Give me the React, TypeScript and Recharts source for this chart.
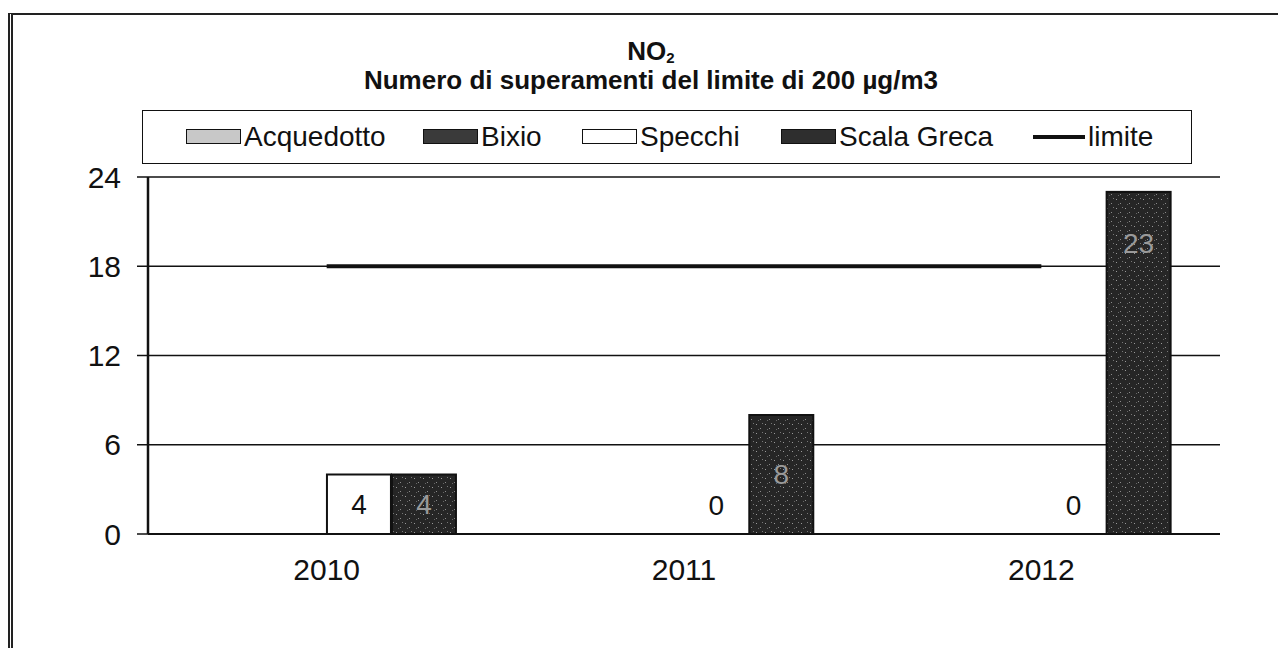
import React from "react";
import {
  ComposedChart,
  Bar,
  Line,
  XAxis,
  YAxis,
  CartesianGrid,
  Legend,
} from "recharts";

const years = ["2010", "2011", "2012"];
const acquedotto: (number | null)[] = [null, null, null];
const bixio: (number | null)[] = [null, null, null];
const specchi = [4, 0, 0];
const scalaGreca = [4, 8, 23];
const limite = [18, 18, 18];
const yTicks = [0, 6, 12, 18, 24];

const data = years.map((year, i) => ({
  year,
  Acquedotto: acquedotto[i],
  Bixio: bixio[i],
  Specchi: specchi[i],
  "Scala Greca": scalaGreca[i],
  limite: limite[i],
}));

const FONT = "'Liberation Sans', Arial, sans-serif";
const TICK_SIZE = 30;
const LABEL_SIZE = 28;

const legendItems = [
  { name: "Acquedotto", kind: "box", fill: "#c8c8c8" },
  { name: "Bixio", kind: "box", fill: "#3a3a3a" },
  { name: "Specchi", kind: "box", fill: "#ffffff" },
  { name: "Scala Greca", kind: "box", fill: "#2e2e2e" },
  { name: "limite", kind: "line", fill: "#000" },
];
// left edge of each legend entry inside the box (px)
const LEGEND_X = [43, 280, 439, 638, 890];

function LegendBox() {
  return (
    <div
      style={{
        position: "relative",
        width: 1050,
        height: 54,
        boxSizing: "border-box",
        border: "1.5px solid #111",
        fontFamily: FONT,
        fontSize: 28,
        color: "#111",
        background: "#fff",
      }}
    >
      {legendItems.map((it, i) => (
        <div
          key={it.name}
          style={{
            position: "absolute",
            left: LEGEND_X[i],
            top: 0,
            height: 51,
            display: "flex",
            alignItems: "center",
            whiteSpace: "nowrap",
          }}
        >
          {it.kind === "box" ? (
            <span
              style={{
                display: "inline-block",
                width: 55,
                height: 15,
                boxSizing: "border-box",
                border: "1.5px solid #111",
                background: it.fill,
                marginRight: 3,
              }}
            />
          ) : (
            <span
              style={{
                display: "inline-block",
                width: 52,
                height: 4,
                background: "#111",
                marginRight: 3,
              }}
            />
          )}
          <span>{it.name}</span>
        </div>
      ))}
    </div>
  );
}

// bar plus its value label; zero bars still get their "0"
function makeShape(dataKey: string, fill: string, labelColor: string) {
  return (props: any) => {
    const { x, y, width, height, payload } = props;
    const value = payload ? payload[dataKey] : null;
    if (value === null || value === undefined) return <g />;
    let ly = y + height / 2;
    if (height <= 0) ly = y - 29;
    else if (height > 150) ly = y + 52;
    return (
      <g>
        {height > 0 && (
          <rect x={x} y={y} width={width} height={height} fill={fill} stroke="#111" strokeWidth={2} />
        )}
        <text
          x={x + width / 2}
          y={ly}
          textAnchor="middle"
          dominantBaseline="central"
          fontFamily={FONT}
          fontSize={LABEL_SIZE}
          fill={labelColor}
        >
          {value}
        </text>
      </g>
    );
  };
}

export default function App() {
  return (
    <div style={{ position: "relative", width: 1270, height: 640, background: "#fff" }}>
      <div
        style={{
          position: "absolute",
          top: 5,
          left: 0,
          right: 0,
          bottom: 0,
          borderTop: "2px solid #222",
          borderLeft: "5px double #222",
          pointerEvents: "none",
        }}
      />
      <div
        style={{
          position: "absolute",
          top: 29,
          left: 0,
          width: 1286,
          textAlign: "center",
          fontFamily: FONT,
          fontWeight: "bold",
          fontSize: 26,
          lineHeight: "29px",
          color: "#111",
        }}
      >
        <div>
          NO
          <span style={{ fontSize: 15, verticalAlign: -3, lineHeight: 0 }}>2</span>
        </div>
        <div>Numero di superamenti del limite di 200 µg/m3</div>
      </div>
      <ComposedChart
        width={1270}
        height={640}
        data={data}
        margin={{ top: 169, right: 58, bottom: 84, left: 80 }}
        barCategoryGap="13.7%"
        barGap={1}
      >
        <defs>
          <pattern id="speckle" width="9" height="9" patternUnits="userSpaceOnUse">
            <rect width="9" height="9" fill="#262626" />
            <rect x="1" y="2" width="1" height="1" fill="#9a9a9a" />
            <rect x="5" y="6" width="1" height="1" fill="#8a8a8a" />
            <rect x="7" y="1" width="1" height="1" fill="#777" />
            <rect x="3" y="7" width="1" height="1" fill="#666" />
          </pattern>
        </defs>
        <CartesianGrid horizontal vertical={false} stroke="#111" strokeWidth={1.5} />
        <XAxis
          dataKey="year"
          axisLine={{ stroke: "#111", strokeWidth: 2 }}
          tickLine={false}
          tickMargin={19}
          tick={{ fontFamily: FONT, fontSize: TICK_SIZE, fill: "#111" }}
          height={30}
        />
        <YAxis
          domain={[0, 24]}
          ticks={yTicks}
          width={60}
          tickSize={11}
          tickMargin={16}
          axisLine={{ stroke: "#111", strokeWidth: 2.5 }}
          tickLine={{ stroke: "#111", strokeWidth: 1.5 }}
          tick={{ fontFamily: FONT, fontSize: TICK_SIZE, fill: "#111" }}
          interval={0}
        />
        <YAxis
          yAxisId="frame"
          orientation="right"
          domain={[0, 24]}
          ticks={yTicks}
          width={0}
          tick={false}
          tickLine={false}
          axisLine={{ stroke: "#111", strokeWidth: 1.5 }}
        />
        <Legend
          layout="horizontal"
          verticalAlign="middle"
          align="center"
          wrapperStyle={{ top: 102, left: 134, width: 1050 }}
          content={() => <LegendBox />}
        />
        <Bar dataKey="Acquedotto" fill="#c8c8c8" stroke="#111" isAnimationActive={false} />
        <Bar dataKey="Bixio" fill="#3a3a3a" stroke="#111" isAnimationActive={false} />
        <Bar
          dataKey="Specchi"
          fill="#ffffff"
          isAnimationActive={false}
          shape={makeShape("Specchi", "#ffffff", "#111")}
        />
        <Bar
          dataKey="Scala Greca"
          fill="#2e2e2e"
          isAnimationActive={false}
          shape={makeShape("Scala Greca", "url(#speckle)", "#9a9a9a")}
        />
        <Line
          dataKey="limite"
          stroke="#111"
          strokeWidth={4}
          dot={false}
          activeDot={false}
          isAnimationActive={false}
        />
      </ComposedChart>
    </div>
  );
}
